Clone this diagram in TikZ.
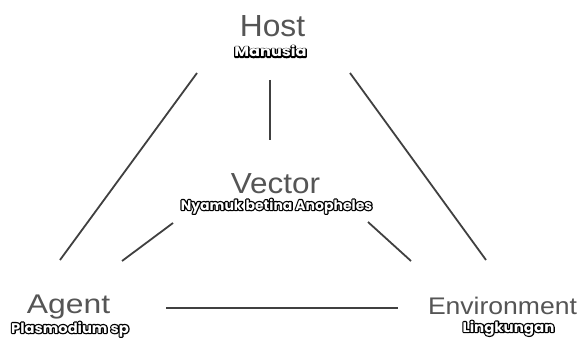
\documentclass[tikz,border=0pt]{standalone}
\usepackage{fontspec}
\setmainfont{Liberation Sans}
\newfontfamily\subfont{Poppins}
\definecolor{txtgray}{HTML}{555555}
\definecolor{linegray}{HTML}{404040}
\newcommand{\outl}[1]{\rlap{\textcolor{black}{\special{pdf:code 2 Tr 2.4 w 1 j}#1\special{pdf:code 0 Tr 0.4 w 0 j}}}\textcolor{white}{#1}}
\newcommand{\sublabel}[2]{\scalebox{#1}[1]{\outl{#2}}}
\newcommand{\mainlabel}[3]{\scalebox{#1}[1]{\fontsize{#2}{#2}\selectfont #3}}
\begin{document}
\begin{tikzpicture}[x=1pt,y=-1pt,
  main/.style={text=txtgray, inner sep=0pt, anchor=base},
  sub/.style={font=\subfont\bfseries\fontsize{14}{14}\selectfont, inner sep=0pt, anchor=base},
  conn/.style={draw=linegray, line width=1.8pt}]
\useasboundingbox (0,0) rectangle (580,339);
\fill[white] (0,0) rectangle (580,339);
% labels
\node[main] (host) at (272.5,37) {\mainlabel{1.04}{30.5}{Host}};
\node[sub] (hostsub) at (270.5,57) {\sublabel{1.15}{Manusia}};
\node[main] (vector) at (275.5,193) {\mainlabel{1.085}{29}{Vector}};
\node[sub] (vectorsub) at (276.5,210) {\sublabel{1.0}{Nyamuk betina Anopheles}};
\node[main] (agent) at (68.5,313) {\mainlabel{1.18}{27}{Agent}};
\node[sub] (agentsub) at (70,333) {\sublabel{1.05}{Plasmodium sp}};
\node[main] (env) at (502.5,314) {\mainlabel{1.106}{24}{Environment}};
\node[sub] (envsub) at (508.5,332) {\sublabel{1.07}{Lingkungan}};
% connector ends
\coordinate (hA) at (197,73);
\coordinate (aH) at (60,260);
\coordinate (hE) at (350,73);
\coordinate (eH) at (486,260);
\coordinate (hV) at (270,80);
\coordinate (vH) at (270,140);
\coordinate (vA) at (173,223);
\coordinate (aV) at (122,261);
\coordinate (vE) at (368,222);
\coordinate (eV) at (411,261);
\coordinate (aE) at (166,308);
\coordinate (eA) at (398,308);
\draw[conn] (hA) -- (aH);
\draw[conn] (hE) -- (eH);
\draw[conn] (hV) -- (vH);
\draw[conn] (vA) -- (aV);
\draw[conn] (vE) -- (eV);
\draw[conn] (aE) -- (eA);
\end{tikzpicture}
\end{document}
